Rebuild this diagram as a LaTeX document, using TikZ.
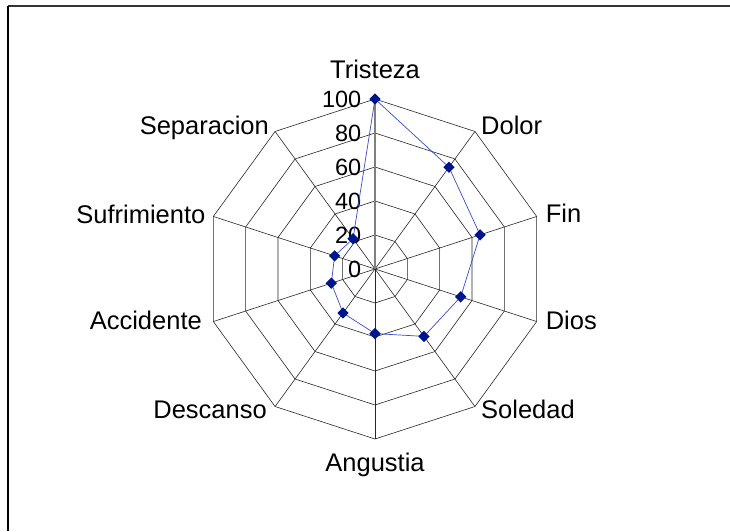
\documentclass[tikz,border=0pt]{standalone}
\usepackage{fontspec}
\setmainfont{Liberation Sans}
\usetikzlibrary{shapes.geometric}
\definecolor{chartnavy}{RGB}{0,20,140}
\definecolor{chartline}{RGB}{55,75,205}
\tikzset{
  ring/.style={draw=black!85, line width=0.6pt},
  spoke/.style={draw=black!85, line width=0.6pt},
  valaxis/.style={draw=black!50, line width=1.1pt},
  marker/.style={diamond, fill=chartnavy, inner sep=0pt, minimum size=11.5pt},
  axlabel/.style={inner sep=0pt, font=\fontsize{25.5}{30}\selectfont},
  ticklabel/.style={inner sep=0pt, anchor=east, font=\fontsize{23.5}{27}\selectfont},
}

\begin{document}
\begin{tikzpicture}[x=1pt,y=1pt]
  \useasboundingbox (0,0) rectangle (730,531);

  % frame
  \draw [line width=1.6pt, black!80] (8,525) -- (730,525);
  \draw [line width=1.6pt] (8,525) -- (8,0);

  \begin{scope}[shift={(375,262)}]
    % rings and spokes
    \foreach \r in {34,68,102,136,170} {
      \draw [ring] (90:\r) -- (54:\r) -- (18:\r) -- (-18:\r) -- (-54:\r) -- (-90:\r) -- (-126:\r) -- (-162:\r) -- (162:\r) -- (126:\r) -- cycle;
    }
    \foreach \a in {54,18,-18,-54,-90,-126,-162,162,126} {
      \draw [spoke] (0,0) -- (\a:170);
    }
    \draw [valaxis] (0,0) -- (90:170);
  \end{scope}

  % value labels
  \foreach \v in {0,20,40,60,80,100} {
    \node [ticklabel] (t\v) at (361.5,{262+1.7*\v}) {\v};
  }

  % axis labels
  \node [axlabel, anchor=base] (tristeza) at (375,452.7) {Tristeza};
  \node [axlabel, anchor=base west] (dolor) at (481,396.2) {Dolor};
  \node [axlabel, anchor=base west] (fin) at (545.6,308.2) {Fin};
  \node [axlabel, anchor=base west] (dios) at (545.6,201.5) {Dios};
  \node [axlabel, anchor=base west] (soledad) at (481,112.7) {Soledad};
  \node [axlabel, anchor=base] (angustia) at (375,59.3) {Angustia};
  \node [axlabel, anchor=base east] (descanso) at (267,113) {Descanso};
  \node [axlabel, anchor=base east] (accidente) at (202,201.5) {Accidente};
  \node [axlabel, anchor=base east] (sufrimiento) at (205.5,308) {Sufrimiento};
  \node [axlabel, anchor=base east] (separacion) at (269,396.2) {Separacion};

  % data
  \begin{scope}[shift={(375,262)}]
    \foreach \a/\v [count=\i] in {90/100,54/74,18/65,-18/53,-54/49,-90/38,-126/32,-162/27,162/25,126/22} {
      \coordinate (d\i) at (\a:{1.7*\v});
    }
  \end{scope}
  \draw [chartline, line width=0.7pt] (d1) -- (d2) -- (d3) -- (d4) -- (d5) -- (d6) -- (d7) -- (d8) -- (d9) -- (d10) -- cycle;
  \foreach \i in {1,...,10} {
    \node [marker] (m\i) at (d\i) {};
  }
\end{tikzpicture}
\end{document}
